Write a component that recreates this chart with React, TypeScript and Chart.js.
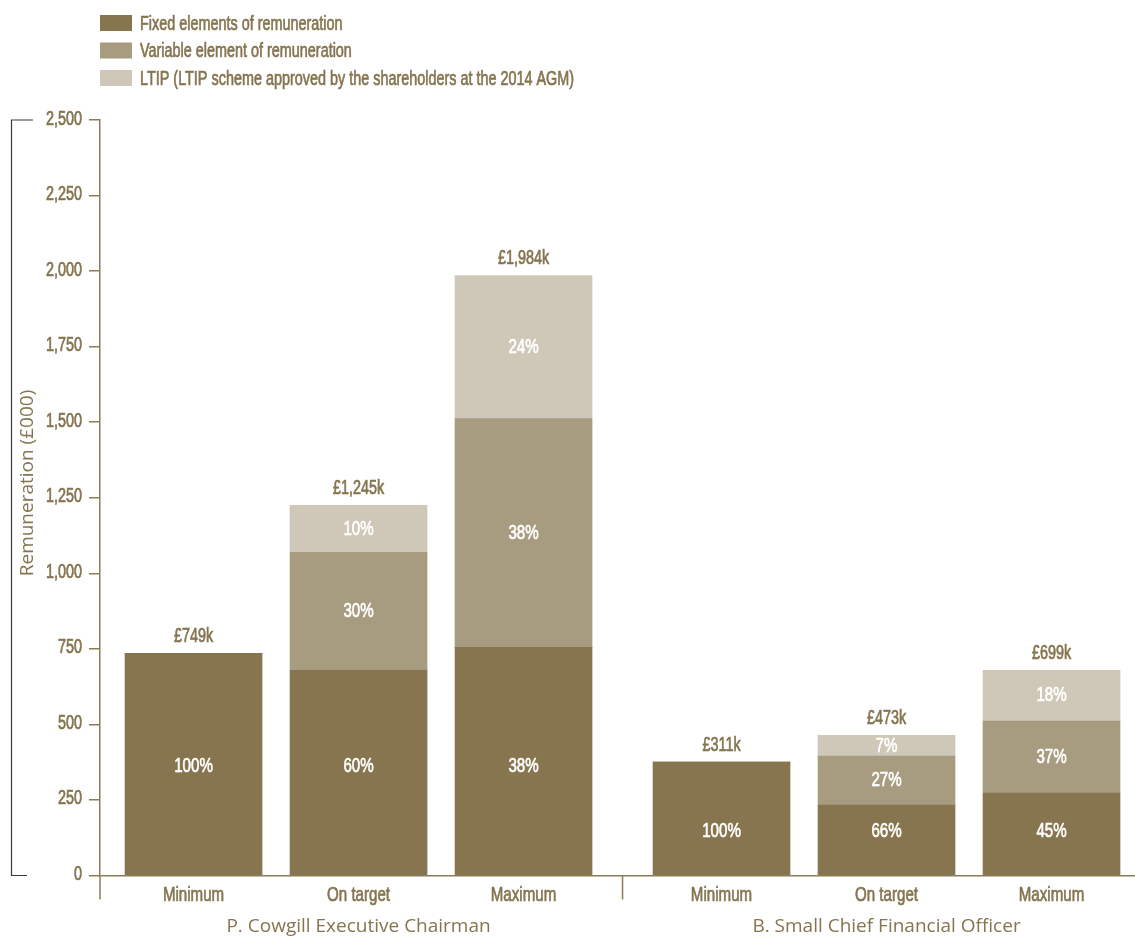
import React, { useEffect, useRef } from "react";
import { Chart, registerables } from "chart.js";

Chart.register(...registerables);

// ---------- data ----------
const CATEGORIES = ["Minimum", "On target", "Maximum", "Minimum", "On target", "Maximum"];
const GROUP_INDEX = [0, 0, 0, 1, 1, 1];
const GROUPS = ["P. Cowgill Executive Chairman", "B. Small Chief Financial Officer"];

const SERIES_LABELS = [
  "Fixed elements of remuneration",
  "Variable element of remuneration",
  "LTIP (LTIP scheme approved by the shareholders at the 2014 AGM)",
];

const FIXED = [735, 679, 755, 375, 233, 273];
const VARIABLE = [0, 390, 757, 0, 162, 238];
const LTIP = [0, 156, 473, 0, 69, 168];

const TOTAL_LABELS = ["£749k", "£1,245k", "£1,984k", "£311k", "£473k", "£699k"];
const FIXED_PCT = ["100%", "60%", "38%", "100%", "66%", "45%"];
const VARIABLE_PCT = ["", "30%", "38%", "", "27%", "37%"];
const LTIP_PCT = ["", "10%", "24%", "", "7%", "18%"];

const Y_TICKS = [0, 250, 500, 750, 1000, 1250, 1500, 1750, 2000, 2250, 2500];
const Y_TITLE = "Remuneration (£000)";

// ---------- style ----------
const W = 1135;
const H = 938;
const BROWN = "#857550";
const AXIS = "#8c7c58";
const COLORS = ["#86754f", "#a89c80", "#cfc7b8"];
const NARROW_FAMILY = '"Liberation Sans", Arimo, Arial, sans-serif';
const NARROW_SCALE = 0.72;
const SANS = '"Open Sans", "Noto Sans", sans-serif';
const GROUP_GAP = 0.2;
const X_MIN = -0.567;
const X_MAX = 5.706;

const positions = CATEGORIES.map((_, i) => i + GROUP_INDEX[i] * GROUP_GAP);

const PCTS = [FIXED_PCT, VARIABLE_PCT, LTIP_PCT];

function narrowText(
  ctx: CanvasRenderingContext2D,
  text: string,
  x: number,
  y: number,
  size: number,
  align: CanvasTextAlign,
  color: string
) {
  ctx.save();
  ctx.translate(x, y);
  ctx.scale(NARROW_SCALE, 1);
  ctx.font = `${size}px ${NARROW_FAMILY}`;
  ctx.fillStyle = color;
  ctx.strokeStyle = color;
  ctx.lineWidth = 0.7;
  ctx.lineJoin = "round";
  ctx.textAlign = align;
  ctx.textBaseline = "middle";
  ctx.fillText(text, 0, 0);
  ctx.strokeText(text, 0, 0);
  ctx.restore();
}

const decorPlugin = {
  id: "decor",
  afterDraw(chart: any) {
    const ctx = chart.ctx as CanvasRenderingContext2D;
    const x = chart.scales.x;
    const y = chart.scales.y;
    const area = chart.chartArea;
    ctx.save();

    // legend
    SERIES_LABELS.forEach((lab, i) => {
      const cy = 23 + i * 27.5;
      ctx.fillStyle = COLORS[i];
      ctx.fillRect(100, cy - 8, 32, 16);
      narrowText(ctx, lab, 140, cy + 1, 20, "left", BROWN);
    });

    // y tick labels
    Y_TICKS.forEach((v) => {
      narrowText(ctx, v.toLocaleString("en-US"), area.left - 18, y.getPixelForValue(v) - 1, 20, "right", BROWN);
    });

    // category labels
    CATEGORIES.forEach((c, i) => {
      narrowText(ctx, c, x.getPixelForValue(positions[i]), area.bottom + 20, 21, "center", BROWN);
    });

    // bracket
    const yTop = y.getPixelForValue(Y_TICKS[Y_TICKS.length - 1]);
    const yBot = y.getPixelForValue(0);
    ctx.strokeStyle = "#3a3a3a";
    ctx.lineWidth = 1.2;
    ctx.beginPath();
    ctx.moveTo(33, yTop);
    ctx.lineTo(11.5, yTop);
    ctx.lineTo(11.5, yBot);
    ctx.lineTo(27, yBot);
    ctx.stroke();

    // y title
    ctx.save();
    ctx.translate(28, 483);
    ctx.rotate(-Math.PI / 2);
    ctx.fillStyle = BROWN;
    ctx.font = `19px ${SANS}`;
    ctx.textAlign = "center";
    ctx.textBaseline = "middle";
    ctx.fillText(Y_TITLE, 0, 0);
    ctx.restore();

    // axis extensions
    ctx.strokeStyle = AXIS;
    ctx.lineWidth = 1.5;
    ctx.beginPath();
    ctx.moveTo(area.left, area.bottom);
    ctx.lineTo(area.left, area.bottom + 24);
    const sep = (x.getPixelForValue(positions[2]) + x.getPixelForValue(positions[3])) / 2;
    ctx.moveTo(sep, area.bottom);
    ctx.lineTo(sep, area.bottom + 24);
    ctx.stroke();

    // group labels
    ctx.fillStyle = BROWN;
    ctx.font = `19px ${SANS}`;
    ctx.textAlign = "center";
    ctx.textBaseline = "middle";
    GROUPS.forEach((g, gi) => {
      const idx = GROUP_INDEX.map((v, i) => (v === gi ? i : -1)).filter((i) => i >= 0);
      const mid = positions[idx[Math.floor(idx.length / 2)]];
      ctx.fillText(g, x.getPixelForValue(mid), 927);
    });

    // segment labels
    chart.data.datasets.forEach((_ds: any, di: number) => {
      const meta = chart.getDatasetMeta(di);
      meta.data.forEach((el: any, i: number) => {
        const txt = PCTS[di][i];
        if (!txt) return;
        let cy = (el.y + el.base) / 2;
        if (di === 0) {
          const g = GROUP_INDEX[i];
          const vals = FIXED.filter((_, k) => GROUP_INDEX[k] === g);
          const mean = vals.reduce((a, b) => a + b, 0) / vals.length;
          cy = y.getPixelForValue(mean / 2);
        }
        narrowText(ctx, txt, el.x, cy, 21, "center", "#ffffff");
      });
    });

    // totals
    CATEGORIES.forEach((_, i) => {
      let top = Infinity;
      let cx = 0;
      chart.data.datasets.forEach((_ds: any, di: number) => {
        const el: any = chart.getDatasetMeta(di).data[i];
        if (el) {
          top = Math.min(top, el.y);
          cx = el.x;
        }
      });
      narrowText(ctx, TOTAL_LABELS[i], cx, top - 17, 20, "center", BROWN);
    });

    ctx.restore();
  },
};

export default function App() {
  const ref = useRef<HTMLCanvasElement | null>(null);

  useEffect(() => {
    document.body.style.margin = "0";
    if (!ref.current) return;
    const series = [FIXED, VARIABLE, LTIP];
    const chart = new Chart(ref.current, {
      type: "bar",
      data: {
        datasets: series.map((vals, si) => ({
          label: SERIES_LABELS[si],
          data: vals.map((v, i) => ({ x: positions[i], y: v })),
          backgroundColor: COLORS[si],
          borderWidth: 0,
          barThickness: 137,
        })),
      },
      options: {
        animation: false,
        responsive: false,
        events: [],
        layout: { padding: { top: 120, left: 0, right: 0, bottom: 0 } },
        plugins: { legend: { display: false }, tooltip: { enabled: false } },
        scales: {
          x: {
            type: "linear",
            stacked: true,
            offset: false,
            min: X_MIN,
            max: X_MAX,
            afterBuildTicks: (s: any) => {
              s.ticks = positions.map((p) => ({ value: p }));
            },
            afterFit: (s: any) => {
              s.height = 62.5;
            },
            grid: { display: false, drawTicks: false, offset: false },
            border: { display: true, color: AXIS, width: 1.5 },
            ticks: { display: false },
          },
          y: {
            type: "linear",
            stacked: true,
            min: 0,
            max: 2500,
            afterBuildTicks: (s: any) => {
              s.ticks = Y_TICKS.map((v) => ({ value: v }));
            },
            afterFit: (s: any) => {
              s.width = 100;
            },
            grid: { drawOnChartArea: false, drawTicks: true, tickLength: 11, color: AXIS, lineWidth: 1.5 },
            border: { display: true, color: AXIS, width: 1.5 },
            ticks: { display: false },
          },
        },
      },
      plugins: [decorPlugin],
    });
    return () => chart.destroy();
  }, []);

  return (
    <div style={{ width: W, height: H, position: "relative", background: "#fff" }}>
      <canvas ref={ref} width={W} height={H} style={{ width: W, height: H, display: "block" }} />
    </div>
  );
}
